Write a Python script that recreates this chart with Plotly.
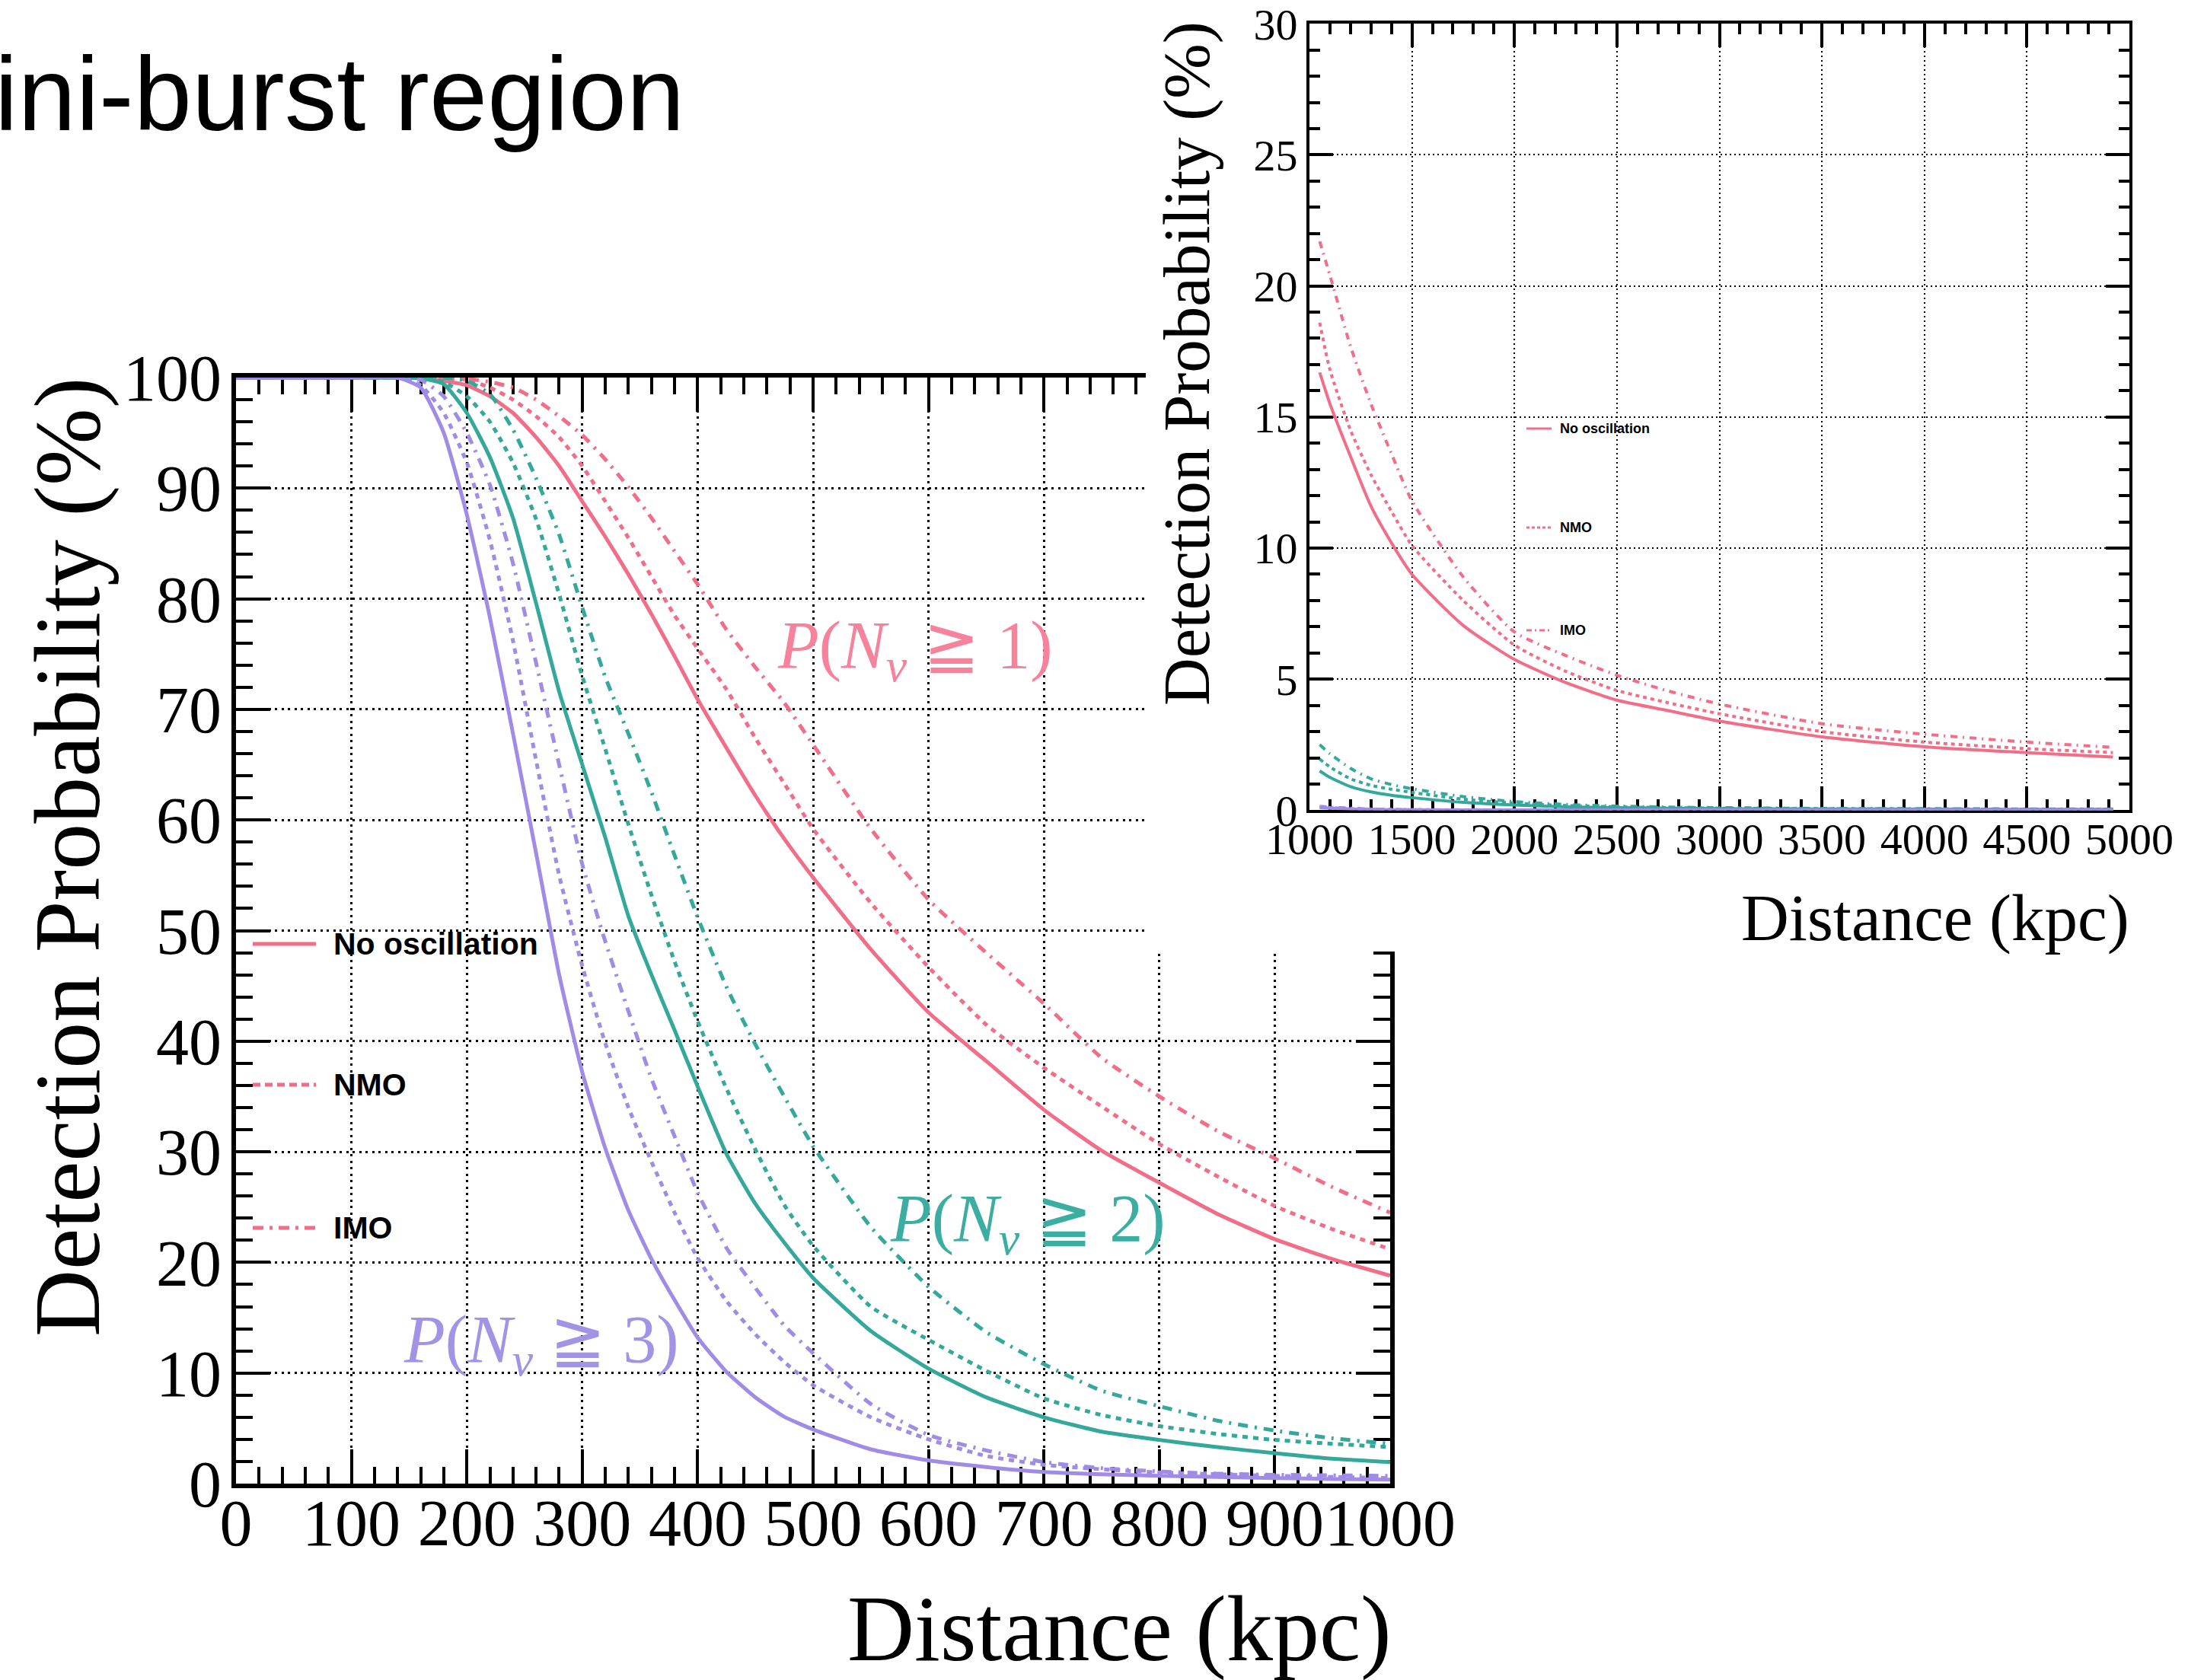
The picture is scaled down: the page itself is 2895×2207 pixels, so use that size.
import plotly.graph_objects as go
import zlib, struct, base64

W, H = 2895, 2207

# ---------------- data: main panel (Distance [kpc] vs Detection probability [%])
dist_main = [0, 100, 140, 160, 180, 200, 220, 240, 260, 280, 300, 320, 340, 360, 380,
             400, 425, 450, 475, 500, 550, 600, 650, 700, 750, 800, 850, 900, 950, 1000]
p1_noosc = [100, 100, 100, 99.95, 99.7, 99.3, 98.3, 96.8, 94.6, 92.0, 88.8, 85.6, 82.2, 78.6, 74.8,
            70.9, 66.5, 62.2, 58.3, 54.8, 48.3, 42.6, 38.2, 33.8, 30.1, 27.2, 24.4, 22.1, 20.3, 18.8]
p1_nmo = [100, 100, 100, 100, 99.95, 99.8, 99.1, 98.0, 96.5, 94.6, 92.0, 88.8, 85.5, 82.0, 78.5,
          75.5, 71.8, 67.4, 63.3, 59.2, 52.5, 46.7, 41.5, 37.6, 34.1, 30.7, 27.8, 25.1, 23.0, 21.2]
p1_imo = [100, 100, 100, 100, 100, 99.9, 99.6, 99.1, 98.0, 96.5, 94.8, 92.6, 90.1, 87.3, 84.3,
          81.3, 77.2, 73.8, 70.6, 66.8, 59.2, 52.8, 48.0, 43.4, 38.5, 35.0, 31.9, 29.4, 26.8, 24.5]
p2_noosc = [100, 100, 100, 99.95, 99.4, 96.8, 92.8, 87.3, 79.6, 71.6, 65.0, 58.4, 51.3, 46.0, 41.0,
            35.9, 29.8, 25.3, 21.8, 18.6, 13.8, 10.4, 7.8, 6.0, 4.7, 3.95, 3.3, 2.75, 2.25, 1.95]
p2_nmo = [100, 100, 100, 100, 99.6, 98.3, 96.0, 92.3, 87.2, 80.4, 73.0, 66.4, 59.6, 53.2, 47.2,
          41.8, 35.7, 30.2, 25.2, 21.5, 16.0, 13.0, 10.2, 7.7, 6.2, 5.2, 4.5, 3.95, 3.6, 3.3]
p2_imo = [100, 100, 100, 100, 100, 99.7, 98.5, 95.3, 90.9, 85.8, 79.2, 72.9, 67.8, 62.5, 56.8,
          51.2, 44.9, 39.7, 35.0, 30.5, 23.2, 17.8, 13.7, 10.8, 8.4, 7.0, 5.7, 4.8, 4.1, 3.6]
p3_noosc = [100, 100, 100, 99.1, 95.0, 87.6, 78.3, 67.8, 57.0, 46.0, 37.2, 30.3, 24.7, 20.3, 16.6,
            13.2, 10.1, 7.8, 6.05, 4.9, 3.1, 2.1, 1.5, 1.05, 0.85, 0.7, 0.6, 0.5, 0.42, 0.36]
p3_nmo = [100, 100, 100, 99.3, 96.8, 92.3, 85.3, 76.2, 65.4, 55.0, 46.8, 39.8, 34.0, 29.1, 24.5,
          20.4, 16.5, 13.5, 11.0, 8.9, 6.0, 4.0, 2.5, 1.7, 1.3, 1.0, 0.85, 0.7, 0.6, 0.5]
p3_imo = [100, 100, 100, 99.8, 98.3, 95.0, 90.3, 83.2, 74.2, 65.0, 56.0, 49.0, 42.7, 36.6, 31.4,
          26.3, 21.3, 17.7, 14.3, 11.8, 7.2, 4.4, 3.0, 1.95, 1.4, 1.1, 0.9, 0.8, 0.75, 0.7]

# ---------------- data: inset panel (1000-5000 kpc)
dist_inset = [1050, 1100, 1200, 1300, 1400, 1500, 1750, 2000, 2250, 2500, 2750, 3000, 3500, 4000, 4500, 4920]
q1_noosc = [16.7, 15.5, 13.5, 11.6, 10.2, 9.0, 7.05, 5.75, 4.87, 4.2, 3.8, 3.4, 2.8, 2.42, 2.2, 2.03]
q1_nmo = [18.6, 16.8, 14.5, 12.8, 11.4, 10.1, 8.0, 6.3, 5.3, 4.57, 4.1, 3.68, 3.0, 2.6, 2.35, 2.2]
q1_imo = [21.7, 20.4, 17.7, 15.5, 13.6, 11.8, 8.9, 6.8, 5.9, 5.15, 4.55, 4.05, 3.3, 2.9, 2.6, 2.4]
q2_noosc = [1.5, 1.25, 0.9, 0.7, 0.57, 0.48, 0.3, 0.2, 0.13, 0.1, 0.08, 0.06, 0.05, 0.04, 0.03, 0.03]
q2_nmo = [1.95, 1.65, 1.2, 0.95, 0.8, 0.68, 0.42, 0.27, 0.18, 0.13, 0.1, 0.08, 0.06, 0.05, 0.04, 0.04]
q2_imo = [2.5, 2.15, 1.6, 1.2, 0.98, 0.82, 0.52, 0.33, 0.22, 0.16, 0.12, 0.1, 0.07, 0.06, 0.05, 0.05]
q3_noosc = [0.1, 0.08, 0.05, 0.03, 0.02, 0.02, 0.01, 0.01, 0.01, 0.01, 0.01, 0.01, 0.01, 0.01, 0.01, 0.01]
q3_nmo = [0.12, 0.1, 0.06, 0.04, 0.03, 0.02, 0.01, 0.01, 0.01, 0.01, 0.01, 0.01, 0.01, 0.01, 0.01, 0.01]
q3_imo = [0.15, 0.12, 0.08, 0.05, 0.03, 0.02, 0.02, 0.01, 0.01, 0.01, 0.01, 0.01, 0.01, 0.01, 0.01, 0.01]

legend_labels = ["No oscillation", "NMO", "IMO"]
prob_labels = ["1", "2", "3"]

# ---------------- styles
RED, TEAL, PURPLE = "#f26e88", "#34a99b", "#a08ce6"
RED_T, TEAL_T, PURPLE_T = "#f7829b", "#3bada1", "#a393e6"
SERIF = "Liberation Serif"
SANS = "Liberation Sans"
DASH_MAIN = ["solid", "7px,7px", "13px,9px,3px,9px"]
DASH_INSET = ["solid", "5px,5px", "9px,7px,2px,7px"]


def PX(x):
    return x / W


def PY(y):
    return 1 - y / H


fig = go.Figure()

main_sets = [(RED, [p1_noosc, p1_nmo, p1_imo]),
             (TEAL, [p2_noosc, p2_nmo, p2_imo]),
             (PURPLE, [p3_noosc, p3_nmo, p3_imo])]
for color, series in main_sets:
    for k, ys in enumerate(series):
        fig.add_trace(go.Scatter(x=dist_main, y=ys, mode="lines", xaxis="x", yaxis="y",
                                 line=dict(color=color, width=5, dash=DASH_MAIN[k], shape="spline", smoothing=0.5),
                                 cliponaxis=False, showlegend=False, hoverinfo="skip"))

inset_sets = [(RED, [q1_noosc, q1_nmo, q1_imo]),
              (TEAL, [q2_noosc, q2_nmo, q2_imo]),
              (PURPLE, [q3_noosc, q3_nmo, q3_imo])]
for color, series in inset_sets:
    for k, ys in enumerate(series):
        fig.add_trace(go.Scatter(x=dist_inset, y=ys, mode="lines", xaxis="x2", yaxis="y2",
                                 line=dict(color=color, width=4, dash=DASH_INSET[k], shape="spline", smoothing=0.6),
                                 cliponaxis=False, showlegend=False, hoverinfo="skip"))


def axis_style(tl, tw, lw, gw, gdash, fsize):
    return dict(ticks="inside", ticklen=tl, tickwidth=tw, tickcolor="black",
                showline=True, linewidth=lw, linecolor="black", mirror="allticks",
                showgrid=True, gridcolor="black", gridwidth=gw, griddash=gdash,
                zeroline=False, layer="below traces", tickangle=0, automargin=False,
                tickfont=dict(family=SERIF, size=fsize, color="black"), fixedrange=True)


xa = axis_style(45, 4, 5.5, 3, "3px,5.5px", 86)
xa.update(domain=[PX(310), PX(1826)], range=[0, 1000], tick0=0, dtick=100, anchor="y",
          ticklabelstandoff=-28,
          minor=dict(dtick=20, ticks="inside", ticklen=22, tickwidth=4, tickcolor="black", showgrid=False))
ya = axis_style(45, 4, 5.5, 3, "3px,5.5px", 86)
ya.update(domain=[PY(1949), PY(496)], range=[0, 100], tick0=0, dtick=10, anchor="x",
          ticklabelstandoff=-4,
          minor=dict(dtick=2, ticks="inside", ticklen=22, tickwidth=4, tickcolor="black", showgrid=False))
xa2 = axis_style(31, 3.5, 4, 2, "2px,4px", 58)
xa2.update(domain=[PX(1720), PX(2797)], range=[1000, 5000], tick0=1000, dtick=500, anchor="y2",
           ticklabelstandoff=-16,
           minor=dict(dtick=100, ticks="inside", ticklen=14, tickwidth=3.5, tickcolor="black", showgrid=False))
ya2 = axis_style(31, 3.5, 4, 2, "2px,4px", 58)
ya2.update(domain=[PY(1064.4), PY(31.2)], range=[0, 30], tick0=0, dtick=5, anchor="x2",
           minor=dict(dtick=1, ticks="inside", ticklen=14, tickwidth=3.5, tickcolor="black", showgrid=False))


# white cover behind the inset (inset picture pasted over the main plot)
def white_png(w=4, h=4):
    raw = b"".join(b"\x00" + b"\xff\xff\xff" * w for _ in range(h))

    def chunk(t, d):
        c = struct.pack(">I", len(d)) + t + d
        return c + struct.pack(">I", zlib.crc32(t + d) & 0xffffffff)
    png = (b"\x89PNG\r\n\x1a\n" + chunk(b"IHDR", struct.pack(">IIBBBBB", w, h, 8, 2, 0, 0, 0))
           + chunk(b"IDAT", zlib.compress(raw)) + chunk(b"IEND", b""))
    return "data:image/png;base64," + base64.b64encode(png).decode()


ix0, ix1, iy0, iy1 = 1720, 2797, 1064.4, 31.2
cover = dict(source=white_png(), xref="x2 domain", yref="y2 domain",
             x=(1505 - ix0) / (ix1 - ix0), y=(iy0 - 0) / (iy0 - iy1),
             sizex=(W - 1505) / (ix1 - ix0), sizey=(1250 - 0) / (iy0 - iy1),
             xanchor="left", yanchor="top", sizing="stretch", layer="below")

annotations = []


def ann(text, x, y, size, family=SERIF, color="black", xanchor="center", yanchor="middle",
        angle=0, xref="paper", yref="paper", weight="normal"):
    annotations.append(dict(text=text, x=x, y=y, xref=xref, yref=yref, showarrow=False,
                            xanchor=xanchor, yanchor=yanchor, textangle=angle,
                            font=dict(family=family, size=size, color=color, weight=weight)))


# slide title
ann("ini-burst region", PX(-9), PY(124), 137, family=SANS, xanchor="left")
# axis titles
ann("Detection Probability (%)", PX(89), PY(1126), 122, angle=-90)
ann("Distance (kpc)", PX(1830), PY(2140), 122, xanchor="right")
ann("Detection Probability (%)", PX(1558), PY(478), 87, angle=-90)
ann("Distance (kpc)", PX(2799), PY(1205), 87, xanchor="right")
# curve labels
for lab, (cx, cy), col in zip(prob_labels, [(588, 75.4), (686, 23.6), (264, 12.6)], [RED_T, TEAL_T, PURPLE_T]):
    ann("<i>P</i>(<i>N</i><sub><i>ν</i></sub> ≧ " + lab + ")", cx, cy, 88, color=col, xref="x", yref="y")

shapes = []
for k, lab in enumerate(legend_labels):
    yy = [1240, 1425, 1613][k]
    ann(lab, PX(436), PY(yy), 41, family=SANS, xanchor="left", weight="bold")
    shapes.append(dict(type="line", xref="paper", yref="paper", x0=PX(332), x1=PX(415), y0=PY(yy), y1=PY(yy),
                       line=dict(color=RED, width=5, dash=["solid", "10px,6px", "14px,8px,4px,8px"][k]), layer="above"))
    yi = [563, 693, 828][k]
    ann(lab, PX(2047), PY(yi), 18, family=SANS, xanchor="left", weight="bold")
    shapes.append(dict(type="line", xref="paper", yref="paper", x0=PX(2005), x1=PX(2038), y0=PY(yi), y1=PY(yi),
                       line=dict(color=RED, width=3, dash=["solid", "4px,3px", "7px,4px,2px,4px"][k]), layer="above"))

fig.update_layout(width=W, height=H, autosize=False,
                  margin=dict(l=0, r=0, t=0, b=0, pad=0, autoexpand=False),
                  paper_bgcolor="white", plot_bgcolor="white", showlegend=False,
                  xaxis=xa, yaxis=ya, xaxis2=xa2, yaxis2=ya2,
                  images=[cover], annotations=annotations, shapes=shapes)

fig.write_html("out.html")
